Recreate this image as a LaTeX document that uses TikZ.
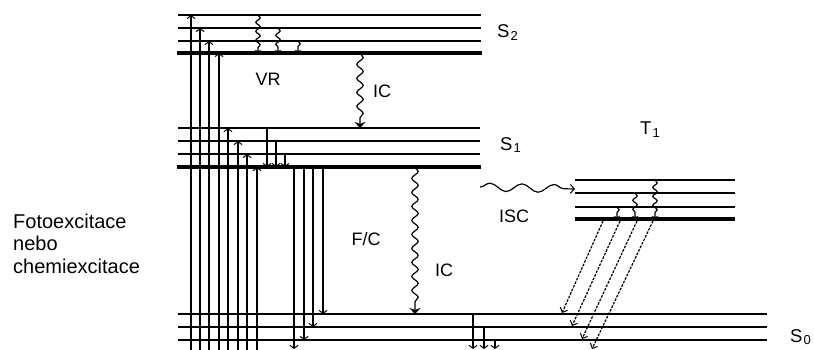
\documentclass[tikz,border=0pt]{standalone}
\usepackage{fontspec}
\setmainfont{Liberation Sans}
\usetikzlibrary{arrows.meta,decorations.pathmorphing}
\newcommand{\lowsub}[1]{\kern1pt\raisebox{-2.5pt}{\fontsize{13}{14}\selectfont #1}}
\begin{document}
\begin{tikzpicture}[x=1pt,y=-1pt,
  lvl/.style={line width=1.4pt},
  lvlthick/.style={line width=3.4pt},
  tr/.style={line width=1.4pt,-{Straight Barb[length=3pt,width=8pt,line width=1pt]}},
  wavy/.style={line width=1.2pt,decorate,decoration={snake,amplitude=2.2pt,segment length=9pt,post length=4pt}},
  icw/.style={line width=1.2pt,decorate,decoration={snake,amplitude=3.2pt,segment length=14pt,post length=6pt},-{Stealth[length=6pt,width=11pt]}},
  vrw/.style={wavy,-{Stealth[length=3pt,width=7pt]}},
  isc/.style={line width=1.2pt,decorate,decoration={snake,amplitude=4pt,segment length=32pt,post length=4pt},-{Straight Barb[length=4pt,width=9pt,line width=1pt]}},
  ph/.style={line width=1.2pt,dash pattern=on 2.6pt off 1.3pt,-{Straight Barb[length=4pt,width=8pt,line width=1pt]}},
  lab/.style={inner sep=0pt,font=\fontsize{18}{22}\selectfont},
  lev/.style={inner sep=0pt,anchor=base west,font=\fontsize{18.5}{22}\selectfont},
  side/.style={inner sep=0pt,anchor=base west,font=\fontsize{20}{23}\selectfont}]
\useasboundingbox (0,0) rectangle (814,350);
\clip (0,0) rectangle (814,350);
\fill[white] (0,0) rectangle (814,350);
% S2 levels
\foreach \y in {15,28,41} \draw[lvl] (178,\y) -- (481,\y);
\draw[lvlthick] (177,53) -- (482,53);
% S1 levels
\foreach \y in {128,141,154} \draw[lvl] (178,\y) -- (480,\y);
\draw[lvlthick] (177,167) -- (481,167);
% T1 levels
\foreach \y in {180,193,207} \draw[lvl] (575,\y) -- (735,\y);
\draw[lvlthick] (575,219) -- (735,219);
% S0 levels
\foreach \y in {314,327,340} \draw[lvl] (178,\y) -- (767,\y);
% excitation
\foreach \x/\y in {191/15,200/28,209/41,219/53,228/128,238/141,247/154,257/167}
  \draw[tr] (\x,355) -- (\x,\y);
% S1 vibrational relaxation
\foreach \x/\y in {267/128,276/141,285/154} \draw[tr] (\x,\y) -- (\x,167);
% fluorescence
\foreach \x/\y in {323/314,313/327,304/340,294/349} \draw[tr] (\x,167) -- (\x,\y);
% S0 vibrational relaxation
\foreach \x/\y in {473/314,484/327,495/340} \draw[tr] (\x,\y) -- (\x,349);
% S2 vibrational relaxation
\foreach \x/\y in {258/15,278/28,298/41} \draw[vrw] (\x,\y) -- (\x,53);
% T1 vibrational relaxation
\foreach \x/\y in {655/180,635/193,617/207} \draw[vrw] (\x,\y) -- (\x,219);
% internal conversions
\draw[icw] (360,53) -- (360,128);
\draw[icw] (415,167) -- (415,314);
% ISC
\draw[isc] (480,187) -- (575,189);
% phosphorescence
\draw[ph] (603,221) -- (562,313);
\draw[ph] (620,221) -- (572,326);
\draw[ph] (637,221) -- (582,339);
\draw[ph] (653,221) -- (592,349);
% labels
\node[lev] (s2) at (497,38) {S\lowsub{2}};
\node[lev] (s1) at (500,150) {S\lowsub{1}};
\node[lev] (t1) at (640,135) {T\lowsub{1}};
\node[lev] (s0) at (790,342) {S\lowsub{0}};
\node[lab] (vr) at (268,79) {VR};
\node[lab] (ic1) at (382,91.5) {IC};
\node[lab] (fc) at (366,239) {F/C};
\node[lab] (ic2) at (444,270) {IC};
\node[lab] (iscl) at (514,216.5) {ISC};
\node[side] (f1) at (13,228) {Fotoexcitace};
\node[side] (f2) at (13,250.5) {nebo};
\node[side] (f3) at (13,273) {chemiexcitace};
\end{tikzpicture}
\end{document}
